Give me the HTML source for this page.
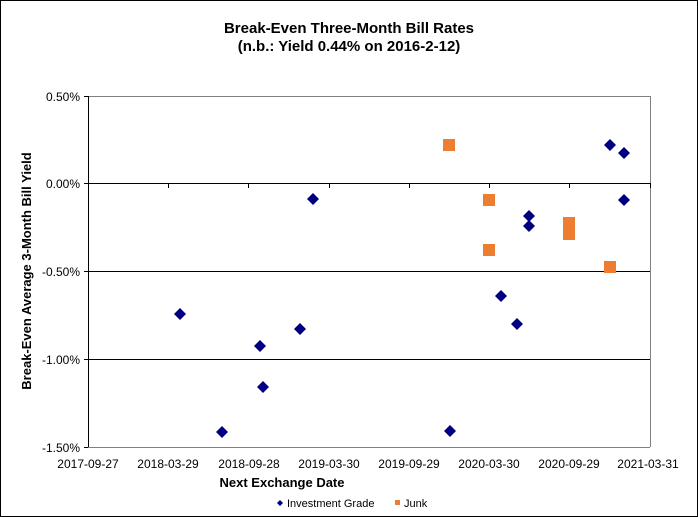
<!DOCTYPE html>
<html><head><meta charset="utf-8"><style>
body{margin:0;background:#fff}
svg{display:block;font-family:"Liberation Sans",Arial,sans-serif}
</style></head><body>
<svg width="698" height="517" xmlns="http://www.w3.org/2000/svg">
<rect x="0.5" y="0.5" width="697" height="516" fill="#fff" stroke="#000"/>
<text x="349" y="33" font-size="15" font-weight="bold" text-anchor="middle">Break-Even Three-Month Bill Rates</text>
<text x="349" y="51" font-size="15" font-weight="bold" text-anchor="middle">(n.b.: Yield 0.44% on 2016-2-12)</text>
<line x1="88" y1="96.5" x2="650" y2="96.5" stroke="#808080"/>
<line x1="650.5" y1="96" x2="650.5" y2="447" stroke="#808080"/>
<line x1="88" y1="447.5" x2="650" y2="447.5" stroke="#808080"/>
<line x1="88" y1="271.5" x2="650" y2="271.5" stroke="#000"/>
<line x1="88" y1="359.5" x2="650" y2="359.5" stroke="#000"/>
<line x1="88" y1="183.5" x2="650" y2="183.5" stroke="#000"/>
<line x1="88.5" y1="96" x2="88.5" y2="447" stroke="#000"/>
<g stroke="#000">
<line x1="84" y1="96.5" x2="88" y2="96.5"/><line x1="84" y1="183.5" x2="88" y2="183.5"/><line x1="84" y1="271.5" x2="88" y2="271.5"/><line x1="84" y1="359.5" x2="88" y2="359.5"/><line x1="84" y1="447.5" x2="88" y2="447.5"/>
<line x1="168.5" y1="183" x2="168.5" y2="188"/><line x1="248.5" y1="183" x2="248.5" y2="188"/><line x1="329.5" y1="183" x2="329.5" y2="188"/><line x1="409.5" y1="183" x2="409.5" y2="188"/><line x1="489.5" y1="183" x2="489.5" y2="188"/><line x1="569.5" y1="183" x2="569.5" y2="188"/><line x1="650.5" y1="183" x2="650.5" y2="188"/>
</g>
<g font-size="12" text-anchor="end">
<text x="80" y="101">0.50%</text><text x="80" y="188">0.00%</text><text x="80" y="276">-0.50%</text><text x="80" y="364">-1.00%</text><text x="80" y="452">-1.50%</text>
</g>
<g font-size="12" text-anchor="middle">
<text x="88" y="468">2017-09-27</text><text x="168" y="468">2018-03-29</text><text x="249" y="468">2018-09-28</text><text x="329" y="468">2019-03-30</text><text x="409" y="468">2019-09-29</text><text x="489" y="468">2020-03-30</text><text x="569" y="468">2020-09-29</text><text x="648" y="468">2021-03-31</text>
</g>
<text x="282" y="487" font-size="13" font-weight="bold" text-anchor="middle">Next Exchange Date</text>
<text transform="translate(31,271) rotate(-90)" font-size="13" font-weight="bold" text-anchor="middle">Break-Even Average 3-Month Bill Yield</text>
<g fill="#ED7D31">
<rect x="443" y="139" width="12" height="12"/><rect x="483" y="194" width="12" height="12"/><rect x="483" y="244" width="12" height="12"/><rect x="563" y="217" width="12" height="23"/><rect x="604" y="261" width="12" height="12"/>
</g>
<g fill="#000080">
<path d="M180 308l6 6-6 6-6-6z"/><path d="M222 426l6 6-6 6-6-6z"/><path d="M260 340l6 6-6 6-6-6z"/><path d="M263 381l6 6-6 6-6-6z"/><path d="M300 323l6 6-6 6-6-6z"/><path d="M313 193l6 6-6 6-6-6z"/><path d="M450 425l6 6-6 6-6-6z"/><path d="M501 290l6 6-6 6-6-6z"/><path d="M517 318l6 6-6 6-6-6z"/><path d="M529 210l6 6-6 6-6-6z"/><path d="M529 220l6 6-6 6-6-6z"/><path d="M610 139l6 6-6 6-6-6z"/><path d="M624 147l6 6-6 6-6-6z"/><path d="M624 194l6 6-6 6-6-6z"/>
<path d="M280 500l3 3-3 3-3-3z"/>
</g>
<text x="287" y="507" font-size="11">Investment Grade</text>
<rect x="395" y="500" width="5" height="5" fill="#ED7D31"/>
<text x="404" y="507" font-size="11">Junk</text>
</svg>
</body></html>
